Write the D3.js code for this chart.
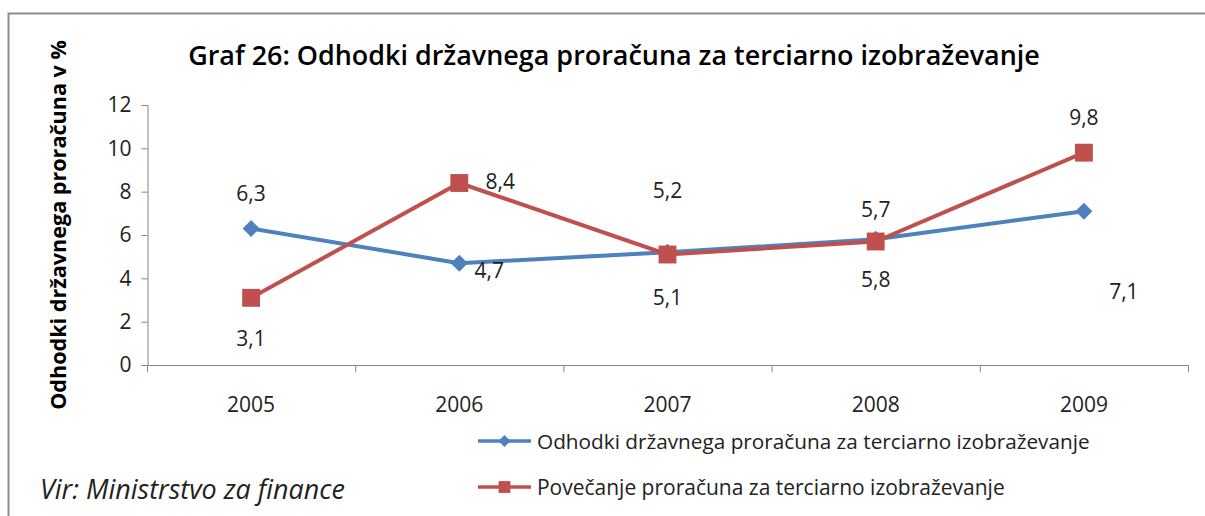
<!DOCTYPE html>
<html>
<head>
<meta charset="utf-8">
<script src="https://cdn.jsdelivr.net/npm/d3@7"></script>
<style>
  body { margin: 0; background: #fff; }
  svg { display: block; font-family: "Open Sans", "Noto Sans", sans-serif; }
  .domain, .tick line { stroke: #868686; }
</style>
</head>
<body>
<svg width="1205" height="516"></svg>
<script>
// data
const years = ["2005", "2006", "2007", "2008", "2009"];
const expenditure = [6.3, 4.7, 5.2, 5.8, 7.1];   // Odhodki drzavnega proracuna
const increase = [3.1, 8.4, 5.1, 5.7, 9.8];       // Povecanje proracuna
const yTicks = [0, 2, 4, 6, 8, 10, 12];

const seriesNames = [
  "Odhodki državnega proračuna za terciarno izobraževanje",
  "Povečanje proračuna za terciarno izobraževanje"
];
const colors = ["#4F81BD", "#C0504D"];
const titleText = "Graf 26: Odhodki državnega proračuna za terciarno izobraževanje";
const yTitleText = "Odhodki državnega proračuna v %";
const sourceText = "Vir: Ministrstvo za finance";

// label offsets (px) per point, as placed in the original
const labelOffsets = [
  [[0, -36], [30, 7], [0, -62], [0, 40], [40, 80]],
  [[0, 40], [41, -2], [0, 42], [0, -33], [0, -36]]
];

const svg = d3.select("svg");
const margin = { left: 147, right: 17, top: 105, bottom: 151 };
const W = 1205, H = 516;
const FONT = '"Open Sans", "Noto Sans", sans-serif';

// outer frame
svg.append("rect")
  .attr("x", 8.5).attr("y", 13.5)
  .attr("width", 1210).attr("height", 520)
  .attr("fill", "none").attr("stroke", "#8c8c8c").attr("stroke-width", 2);

const x = d3.scaleBand().domain(years)
  .range([margin.left, W - margin.right]);
const y = d3.scaleLinear().domain([0, 12])
  .range([H - margin.bottom, margin.top]);

// axes
svg.append("g")
  .attr("transform", `translate(0,${y(0)})`)
  .call(d3.axisBottom(x).tickSize(0).tickPadding(32))
  .attr("font-size", 21).attr("font-family", FONT)
  .call(g => g.select(".domain").attr("d", `M${x.range()[0]},0.5H${x.range()[1]}`))
  .call(g => g.selectAll(".tick text").attr("fill", "#222"));

// category separators on x axis
svg.append("g").selectAll("line")
  .data(years.concat(["end"]))
  .join("line")
  .attr("x1", (d, i) => x.range()[0] + i * x.step() + 0.5)
  .attr("x2", (d, i) => x.range()[0] + i * x.step() + 0.5)
  .attr("y1", y(0)).attr("y2", y(0) + 7)
  .attr("stroke", "#868686");

svg.append("g")
  .attr("transform", `translate(${margin.left + 0.5},0)`)
  .call(d3.axisLeft(y).tickValues(yTicks).tickSize(6).tickPadding(10))
  .attr("font-size", 21).attr("font-family", FONT)
  .call(g => g.selectAll(".tick text").attr("fill", "#222"));

// lines
const line = d3.line()
  .x((d, i) => x(years[i]) + x.bandwidth() / 2)
  .y(d => y(d));

[expenditure, increase].forEach((vals, s) => {
  svg.append("path")
    .datum(vals)
    .attr("fill", "none")
    .attr("stroke", colors[s])
    .attr("stroke-width", 4)
    .attr("stroke-linejoin", "round")
    .attr("d", line);
});

// markers
const diamondPath = r => `M0,${-r}L${r},0L0,${r}L${-r},0Z`;
const square = d3.symbol().type(d3.symbolSquare).size(320);

svg.append("g").selectAll("path")
  .data(expenditure)
  .join("path")
  .attr("d", diamondPath(8.5))
  .attr("fill", colors[0])
  .attr("transform", (d, i) => `translate(${x(years[i]) + x.bandwidth() / 2},${y(d)})`);

svg.append("g").selectAll("path")
  .data(increase)
  .join("path")
  .attr("d", square)
  .attr("fill", colors[1])
  .attr("transform", (d, i) => `translate(${x(years[i]) + x.bandwidth() / 2},${y(d)})`);

// data labels
[expenditure, increase].forEach((vals, s) => {
  svg.append("g").selectAll("text")
    .data(vals)
    .join("text")
    .attr("x", (d, i) => x(years[i]) + x.bandwidth() / 2 + labelOffsets[s][i][0])
    .attr("y", (d, i) => y(d) + labelOffsets[s][i][1])
    .attr("text-anchor", "middle")
    .attr("dominant-baseline", "central")
    .attr("font-size", 21)
    .attr("fill", "#222")
    .text(d => d3.format(".1f")(d).replace(".", ","));
});

// fit a text element to a target width
function fit(sel, width) {
  const w = sel.node().getComputedTextLength();
  const fs = parseFloat(sel.attr("font-size"));
  sel.attr("font-size", fs * width / w);
  return sel;
}

// title
fit(svg.append("text")
  .attr("x", 614).attr("y", 65)
  .attr("text-anchor", "middle")
  .attr("font-size", 24).attr("font-weight", 600)
  .attr("fill", "#000")
  .text(titleText), 852);

// y axis title
fit(svg.append("text")
  .attr("transform", "translate(66,225) rotate(-90)")
  .attr("text-anchor", "middle")
  .attr("font-size", 19).attr("font-weight", 700)
  .attr("fill", "#000")
  .text(yTitleText), 370);

// source
fit(svg.append("text")
  .attr("x", 40).attr("y", 499)
  .attr("font-size", 21).attr("font-style", "italic")
  .attr("fill", "#222")
  .text(sourceText), 305);

// legend
const legendY = [441, 487];
const legendWidths = [553, 468];
seriesNames.forEach((name, s) => {
  const g = svg.append("g");
  g.append("line")
    .attr("x1", 478).attr("x2", 531)
    .attr("y1", legendY[s]).attr("y2", legendY[s])
    .attr("stroke", colors[s]).attr("stroke-width", 3.5);
  g.append("path")
    .attr("d", s === 0 ? diamondPath(6) : d3.symbol().type(d3.symbolSquare).size(140)())
    .attr("fill", colors[s])
    .attr("transform", `translate(504.5,${legendY[s]})`);
  fit(g.append("text")
    .attr("x", 537).attr("y", legendY[s])
    .attr("dominant-baseline", "central")
    .attr("font-size", 18)
    .attr("fill", "#222")
    .text(name), legendWidths[s]);
});
</script>
</body>
</html>
